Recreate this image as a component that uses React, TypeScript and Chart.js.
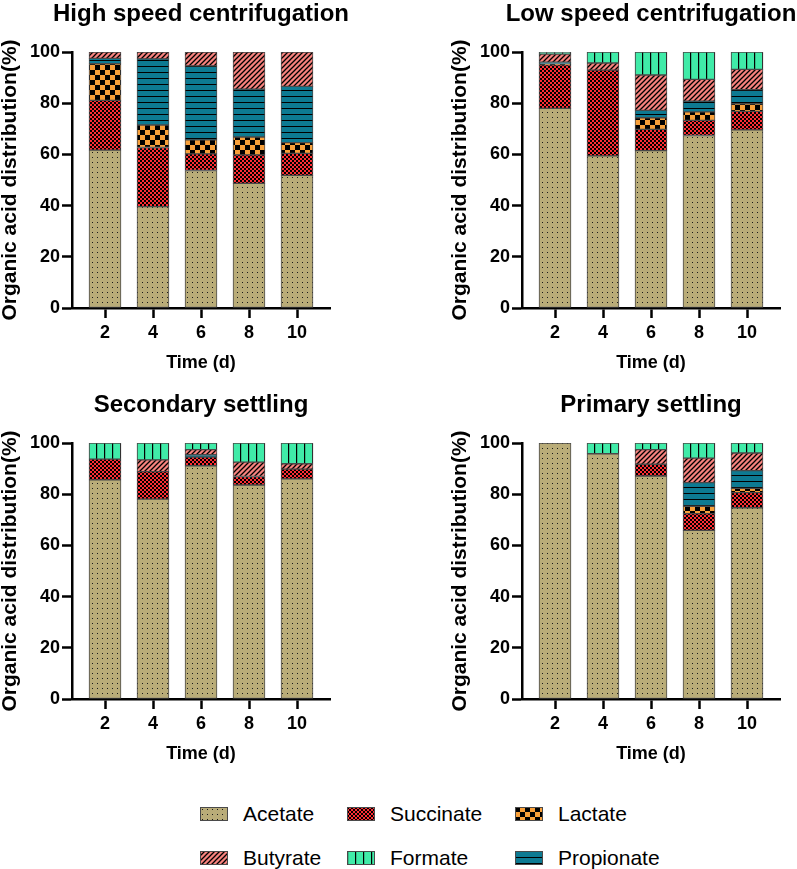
import { useEffect, useRef } from "react";
import { Chart, registerables } from "chart.js";

Chart.register(...registerables);

const FONT = "'Liberation Sans', Arial, sans-serif";
Chart.defaults.font.family = FONT;

const days = [2, 4, 6, 8, 10];
const yTicks = [0, 20, 40, 60, 80, 100];
// stacking order, bottom to top
const acids = ["Acetate", "Succinate", "Lactate", "Propionate", "Butyrate", "Formate"];
const legendRows = [
  ["Acetate", "Succinate", "Lactate"],
  ["Butyrate", "Formate", "Propionate"],
];

// High speed centrifugation
const highAcetate = [61.7, 39.6, 53.7, 48.7, 51.8];
const highSuccinate = [19.4, 23.1, 6.5, 11.1, 8.6];
const highLactate = [14.3, 8.8, 5.5, 7.0, 4.2];
const highPropionate = [2.1, 25.8, 28.9, 18.7, 22.0];
const highButyrate = [2.5, 2.7, 5.4, 14.5, 13.4];
const highFormate = [0, 0, 0, 0, 0];

// Low speed centrifugation
const lowAcetate = [78.0, 59.4, 61.5, 67.4, 69.6];
const lowSuccinate = [17.0, 33.5, 8.3, 5.9, 7.2];
const lowLactate = [0.3, 0, 4.5, 3.3, 3.0];
const lowPropionate = [0.7, 0, 2.9, 4.2, 5.5];
const lowButyrate = [3.2, 2.8, 13.8, 8.5, 7.9];
const lowFormate = [0.8, 4.3, 9.0, 10.7, 6.8];

// Secondary settling
const secAcetate = [85.6, 78.1, 91.1, 83.6, 86.0];
const secSuccinate = [8.1, 10.7, 3.4, 3.3, 3.8];
const secLactate = [0, 0, 0, 0, 0];
const secPropionate = [0, 0, 0.9, 0, 0];
const secButyrate = [0, 4.6, 2.0, 5.6, 2.1];
const secFormate = [6.3, 6.6, 2.6, 7.5, 8.1];

// Primary settling
const priAcetate = [100, 95.8, 87.1, 65.9, 74.7];
const priSuccinate = [0, 0, 4.6, 6.5, 5.9];
const priLactate = [0, 0, 0, 2.9, 1.7];
const priPropionate = [0, 0, 0, 9.2, 6.9];
const priButyrate = [0, 0, 5.7, 9.6, 6.9];
const priFormate = [0, 4.2, 2.6, 5.9, 3.9];

function makePattern(kind: string): CanvasPattern {
  const tile = document.createElement("canvas");
  const g = tile.getContext("2d")!;
  if (kind === "Acetate") {
    tile.width = 5; tile.height = 5;
    g.fillStyle = "#b9ac78"; g.fillRect(0, 0, 5, 5);
    g.fillStyle = "#1a1a1a"; g.fillRect(2, 2, 1, 1);
  } else if (kind === "Succinate") {
    tile.width = 4; tile.height = 4;
    g.fillStyle = "#ff2d33"; g.fillRect(0, 0, 4, 4);
    g.fillStyle = "#000"; g.fillRect(0, 0, 2, 2); g.fillRect(2, 2, 2, 2);
  } else if (kind === "Lactate") {
    tile.width = 10; tile.height = 10;
    g.fillStyle = "#f8a03a"; g.fillRect(0, 0, 10, 10);
    g.fillStyle = "#000"; g.fillRect(0, 0, 5, 5); g.fillRect(5, 5, 5, 5);
  } else if (kind === "Propionate") {
    tile.width = 6; tile.height = 6;
    g.fillStyle = "#0d7a92"; g.fillRect(0, 0, 6, 6);
    g.fillStyle = "#000"; g.fillRect(0, 0, 6, 1);
  } else if (kind === "Butyrate") {
    tile.width = 5; tile.height = 5;
    g.fillStyle = "#f7827e"; g.fillRect(0, 0, 5, 5);
    g.strokeStyle = "#000"; g.lineWidth = 1.3;
    g.beginPath();
    g.moveTo(-1, 6); g.lineTo(6, -1);
    g.moveTo(-1, 1); g.lineTo(1, -1);
    g.moveTo(4, 6); g.lineTo(6, 4);
    g.stroke();
  } else {
    tile.width = 8; tile.height = 8;
    g.fillStyle = "#40eba8"; g.fillRect(0, 0, 8, 8);
    g.fillStyle = "#000"; g.fillRect(0, 0, 1.2, 8);
  }
  return g.createPattern(tile, "repeat")!;
}

// panel title centred over the plot area, not over the whole canvas
const plotTitle = {
  id: "plotTitle",
  afterDraw(chart: any, _args: any, opts: any) {
    const { ctx, chartArea } = chart;
    ctx.save();
    ctx.font = `bold 24px ${FONT}`;
    ctx.fillStyle = "#000";
    ctx.textAlign = "center";
    ctx.textBaseline = "middle";
    ctx.fillText(opts.text, (chartArea.left + chartArea.right) / 2, 14.5);
    ctx.restore();
  },
};

function Swatch({ name }: { name: string }) {
  const ref = useRef<HTMLCanvasElement>(null);
  useEffect(() => {
    const g = ref.current!.getContext("2d")!;
    g.fillStyle = makePattern(name);
    g.fillRect(0, 0, 28, 14);
    g.strokeStyle = "#4a4a4a";
    g.lineWidth = 1;
    g.strokeRect(0.5, 0.5, 27, 13);
  }, [name]);
  return <canvas ref={ref} width={28} height={14} style={{ display: "block" }} />;
}

interface PanelProps {
  title: string;
  series: number[][];
  left: number;
  top: number;
}

function Panel({ title, series, left, top }: PanelProps) {
  const ref = useRef<HTMLCanvasElement>(null);
  useEffect(() => {
    if (!ref.current) return;
    const chart = new Chart(ref.current, {
      type: "bar",
      plugins: [plotTitle],
      data: {
        datasets: acids.map((name, i) => ({
          label: name,
          data: days.map((d, j) => ({ x: d, y: series[i][j] })),
          backgroundColor: makePattern(name),
          borderColor: "#4a4a4a",
          borderWidth: 1,
          borderSkipped: false,
          barThickness: 32,
        })),
      },
      options: {
        animation: false,
        responsive: false,
        layout: { padding: { left: 0, right: 70, top: 52, bottom: 0 } },
        plugins: {
          legend: { display: false },
          tooltip: { enabled: false },
          title: { display: false },
          plotTitle: { text: title },
        } as any,
        scales: {
          x: {
            type: "linear",
            stacked: true,
            min: 0.625,
            max: 11.375,
            bounds: "data",
            offset: false,
            afterBuildTicks: (s: any) => {
              s.ticks = days.map((v) => ({ value: v }));
            },
            afterFit: (s: any) => {
              s.height = 72;
            },
            grid: {
              display: true,
              drawOnChartArea: false,
              drawTicks: true,
              tickLength: 10,
              tickColor: "#000",
              tickWidth: 2.5,
              offset: false,
            },
            border: { display: true, color: "#000", width: 2.5 },
            ticks: {
              color: "#000",
              font: { size: 18, weight: "bold" },
              padding: 4,
              autoSkip: false,
              maxRotation: 0,
            },
            title: {
              display: true,
              text: "Time (d)",
              color: "#000",
              font: { size: 18, weight: "bold" },
              padding: { top: 0, bottom: 6 },
            },
          },
          y: {
            stacked: true,
            min: 0,
            max: 100,
            afterBuildTicks: (s: any) => {
              s.ticks = yTicks.map((v) => ({ value: v }));
            },
            afterFit: (s: any) => {
              s.width = 72;
            },
            grid: {
              display: true,
              drawOnChartArea: false,
              drawTicks: true,
              tickLength: 10,
              tickColor: "#000",
              tickWidth: 2.5,
            },
            border: { display: true, color: "#000", width: 2.5 },
            ticks: {
              color: "#000",
              font: { size: 18, weight: "bold" },
              padding: 2,
            },
            title: {
              display: true,
              text: "Organic acid distribution(%)",
              color: "#000",
              font: { size: 21, weight: "bold", lineHeight: 1.0 },
              padding: { top: 0, bottom: 0 },
            },
          },
        },
      },
    });
    return () => chart.destroy();
  }, [title, series]);

  return (
    <canvas
      ref={ref}
      width={400}
      height={380}
      style={{ position: "absolute", left, top, width: 400, height: 380 }}
    />
  );
}

const legendX = [200, 347, 515];
const legendY = [807, 851];

export default function App() {
  return (
    <div
      style={{
        position: "absolute",
        left: 0,
        top: 0,
        width: 797,
        height: 869,
        overflow: "hidden",
        background: "#fff",
        fontFamily: FONT,
      }}
    >
      <Panel
        title="High speed centrifugation"
        left={0}
        top={0}
        series={[highAcetate, highSuccinate, highLactate, highPropionate, highButyrate, highFormate]}
      />
      <Panel
        title="Low speed centrifugation"
        left={450}
        top={0}
        series={[lowAcetate, lowSuccinate, lowLactate, lowPropionate, lowButyrate, lowFormate]}
      />
      <Panel
        title="Secondary settling"
        left={0}
        top={391}
        series={[secAcetate, secSuccinate, secLactate, secPropionate, secButyrate, secFormate]}
      />
      <Panel
        title="Primary settling"
        left={450}
        top={391}
        series={[priAcetate, priSuccinate, priLactate, priPropionate, priButyrate, priFormate]}
      />
      {legendRows.map((row, r) =>
        row.map((name, c) => (
          <div
            key={name}
            style={{
              position: "absolute",
              left: legendX[c],
              top: legendY[r] - 8,
              height: 30,
              display: "flex",
              alignItems: "center",
              gap: 15,
              fontSize: 21,
              color: "#000",
            }}
          >
            <Swatch name={name} />
            <span>{name}</span>
          </div>
        ))
      )}
    </div>
  );
}
